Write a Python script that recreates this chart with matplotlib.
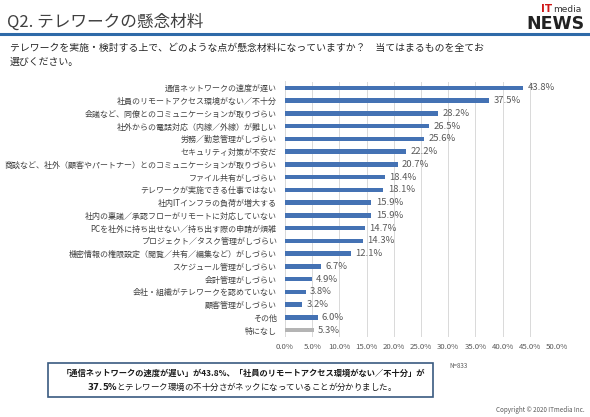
import matplotlib
matplotlib.use("Agg")
import matplotlib.pyplot as plt
from matplotlib.patches import Rectangle
from matplotlib.lines import Line2D

plt.rcParams['font.family'] = ['Noto Sans CJK JP', 'DejaVu Sans']

categories = [
    "通信ネットワークの速度が遅い",
    "社員のリモートアクセス環境がない／不十分",
    "会議など、同僚とのコミュニケーションが取りづらい",
    "社外からの電話対応（内線／外線）が難しい",
    "労務／勤怠管理がしづらい",
    "セキュリティ対策が不安だ",
    "商談など、社外（顧客やパートナー）とのコミュニケーションが取りづらい",
    "ファイル共有がしづらい",
    "テレワークが実施できる仕事ではない",
    "社内ITインフラの負荷が増大する",
    "社内の稟議／承認フローがリモートに対応していない",
    "PCを社外に持ち出せない／持ち出す際の申請が煩雑",
    "プロジェクト／タスク管理がしづらい",
    "機密情報の権限設定（閲覧／共有／編集など）がしづらい",
    "スケジュール管理がしづらい",
    "会計管理がしづらい",
    "会社・組織がテレワークを認めていない",
    "顧客管理がしづらい",
    "その他",
    "特になし",
]
values = [43.8, 37.5, 28.2, 26.5, 25.6, 22.2, 20.7, 18.4, 18.1, 15.9,
          15.9, 14.7, 14.3, 12.1, 6.7, 4.9, 3.8, 3.2, 6.0, 5.3]
xticks = [0, 5, 10, 15, 20, 25, 30, 35, 40, 45, 50]

W, H = 590, 417
fig = plt.figure(figsize=(W / 100, H / 100), dpi=100)

def fx(px):
    return px / W

def fy(py):
    return 1 - py / H

# axes
left, right = 285, 557
top, bottom = 81.5, 336.5
ax = fig.add_axes([fx(left), fy(bottom), fx(right) - fx(left), (bottom - top) / H])
n = len(categories)
ypos = list(range(n))
colors = ['#4472b4'] * (n - 1) + ['#b4b4b4']
ax.barh(ypos, values, height=0.36, color=colors, zorder=3)
ax.set_ylim(n - 0.5, -0.5)
ax.set_xlim(0, 50)
ax.set_xticks(xticks)
ax.set_xticklabels([f"{t:.1f}%" for t in xticks], fontsize=5.6, color='#595959')
ax.tick_params(axis='x', length=0, pad=5)
ax.set_yticks(ypos)
ax.set_yticklabels(categories, fontsize=5.75, color='#404040')
ax.tick_params(axis='y', length=0, pad=6)
ax.grid(axis='x', color='#d9d9d9', linewidth=0.7, zorder=0)
for s in ['top', 'right', 'bottom']:
    ax.spines[s].set_visible(False)
ax.spines['left'].set_color('#d9d9d9')
ax.spines['left'].set_linewidth(0.7)
for y, v in zip(ypos, values):
    ax.text(v + 0.8, y, f"{v:.1f}%", va='center', ha='left', fontsize=6.8, color='#595959', zorder=4)

# title
fig.text(fx(7), fy(22), "Q2. テレワークの懸念材料", fontsize=12, color='#404040', va='center', ha='left')
fig.add_artist(Line2D([fx(0), fx(590)], [fy(34), fy(34)], color='#2e6aa8', linewidth=2.2))
fig.text(fx(10), fy(48), "テレワークを実施・検討する上で、どのような点が懸念材料になっていますか？　当てはまるものを全てお",
         fontsize=7.1, color='#262626', va='center', ha='left')
fig.text(fx(10), fy(62), "選びください。", fontsize=7.1, color='#262626', va='center', ha='left')

# logo
fig.text(fx(541), fy(9), "IT", fontsize=7.5, color='#d01818', fontweight='bold', va='center', ha='left', family='DejaVu Sans')
fig.text(fx(553), fy(9.5), "media", fontsize=6.5, color='#333333', va='center', ha='left', family='DejaVu Sans')
fig.text(fx(585), fy(24), "NEWS", fontsize=12.5, color='#222222', fontweight='bold', va='center', ha='right', family='DejaVu Sans')

# box
box = Rectangle((fx(48), fy(397)), fx(433) - fx(48), (397 - 363) / H, transform=fig.transFigure,
                fill=False, edgecolor='#3a5a80', linewidth=1.2)
fig.add_artist(box)
fig.text(fx(243), fy(373), "「通信ネットワークの速度が遅い」が43.8%、「社員のリモートアクセス環境がない／不十分」が",
         fontsize=5.95, fontweight='bold', color='#1a1a1a', ha='center', va='center')
fig.text(fx(240), fy(387), "$\\bf{37.5\\%}$とテレワーク環境の不十分さがネックになっていることが分かりました。",
         fontsize=6.1, color='#1a1a1a', ha='center', va='center')
fig.text(fx(449), fy(366), "N=833", fontsize=4.5, color='#595959', ha='left', va='center')
fig.text(fx(585), fy(410), "Copyright © 2020 ITmedia Inc.", fontsize=4.5, color='#595959', ha='right', va='center')

fig.savefig("out.png", dpi=100)
